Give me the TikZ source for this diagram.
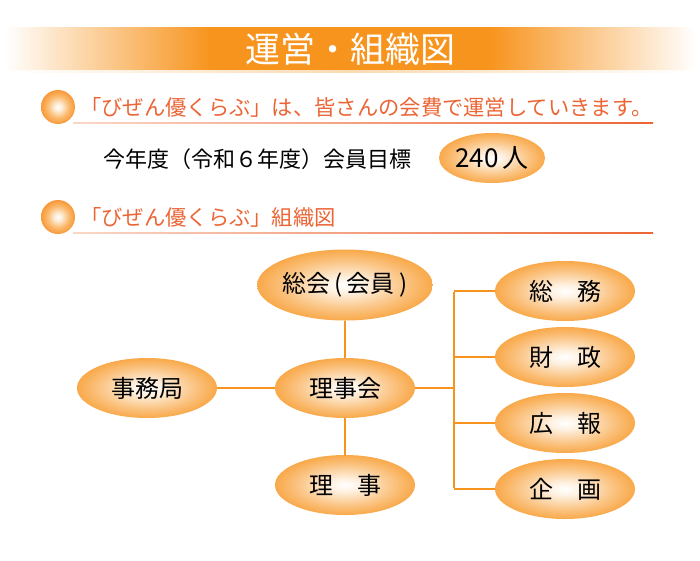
\documentclass[tikz,border=0pt]{standalone}
\usepackage{fontspec}
\setmainfont{Noto Sans CJK JP}
\usetikzlibrary{shapes.geometric}
\definecolor{orgc}{RGB}{247,148,30}
\definecolor{headc}{RGB}{236,101,53}
\definecolor{paleh}{RGB}{250,215,200}
\pgfdeclareradialshading{eball}{\pgfpoint{0bp}{0bp}}{color(0bp)=(white); color(5bp)=(white!88!orgc); color(17bp)=(white!45!orgc); color(31bp)=(orgc); color(50bp)=(orgc)}
\pgfdeclareradialshading{sball}{\pgfpoint{0bp}{0bp}}{color(0bp)=(white); color(5bp)=(white!85!orgc); color(16bp)=(white!35!orgc); color(30bp)=(orgc!90!red); color(50bp)=(orgc!90!red)}
\tikzset{
  oval/.style={ellipse, shading=eball, draw=none, inner sep=0pt,
    minimum width=140pt, minimum height=60pt, font=\fontsize{24pt}{26pt}\selectfont},
  bullet/.style={circle, shading=sball, minimum size=34pt, inner sep=0pt},
  heading/.style={anchor=west, inner sep=0pt, text=headc, font=\fontsize{21.3pt}{23pt}\selectfont},
  link/.style={draw=orgc, line width=2pt}
}
\begin{document}
\begin{tikzpicture}[x=1pt,y=-1pt]
\path[use as bounding box, fill=white] (0,0) rectangle (700,560);
% title bar
\fill[left color=white, right color=orgc] (5,27) rectangle (210,70);
\fill[orgc] (209,27) rectangle (491,70);
\fill[left color=orgc, right color=white] (490,27) rectangle (695,70);
\fill[left color=white, right color=orgc!35] (5,70) rectangle (350,72);
\fill[left color=orgc!35, right color=white] (349,70) rectangle (695,72);
\node[text=white, font=\fontsize{35pt}{37pt}\selectfont, inner sep=0pt] (title) at (350,49) {運営・組織図};
% heading 1
\node[bullet] (b1) at (58,107) {};
\node[heading] (h1) at (80,107) {「びぜん優くらぶ」は、皆さんの会費で運営していきます。};
\fill[left color=paleh, right color=headc] (73,122.3) rectangle (653,123.7);
% target line
\node[anchor=west, inner sep=0pt, font=\fontsize{22pt}{24pt}\selectfont] (goal) at (103,159) {今年度（令和６年度）会員目標};
\node[oval, minimum width=106pt, minimum height=50pt, font=\fontsize{26pt}{28pt}\selectfont] (num) at (492,158) {240\,人};
% heading 2
\node[bullet] (b2) at (58,217) {};
\node[heading] (h2) at (80,217) {「びぜん優くらぶ」組織図};
\fill[left color=paleh, right color=headc] (73,232.3) rectangle (653,233.7);
% org chart
\node[oval, minimum width=166pt, minimum height=71pt] (sokai) at (345,285) {総会\,(\,会員\,)};
\node[oval] (rjk) at (345,388) {理事会};
\node[oval] (jim) at (147,388) {事務局};
\node[oval] (riji) at (345,485) {理　事};
\node[oval] (somu) at (565,291) {総　務};
\node[oval] (zai) at (565,357) {財　政};
\node[oval] (koho) at (565,423) {広　報};
\node[oval] (kik) at (565,489) {企　画};
\coordinate (t1) at (454,291);
\coordinate (t2) at (454,357);
\coordinate (tm) at (454,388);
\coordinate (t3) at (454,423);
\coordinate (t4) at (454,489);
\draw[link] (sokai.south) -- (rjk.north);
\draw[link] (rjk.south) -- (riji.north);
\draw[link] (jim.east) -- (rjk.west);
\draw[link] (rjk.east) -- (tm);
\draw[link] ([yshift=-1pt]t1) -- ([yshift=1pt]t4);
\draw[link] (t1) -- (somu.west);
\draw[link] (t2) -- (zai.west);
\draw[link] (t3) -- (koho.west);
\draw[link] (t4) -- (kik.west);
\end{tikzpicture}
\end{document}
